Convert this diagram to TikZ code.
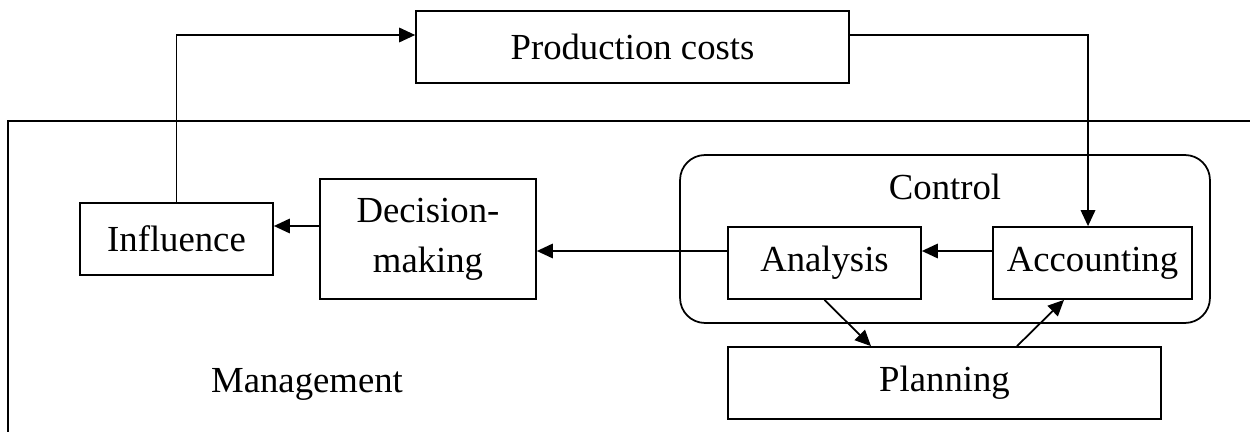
\documentclass[tikz,border=0pt]{standalone}
\usepackage{fontspec}
\setmainfont{Liberation Serif}
\usetikzlibrary{arrows.meta, positioning}

\begin{document}
\begin{tikzpicture}[x=0.02cm, y=-0.02cm, line width=1pt,
  box/.style={draw, inner sep=0pt, align=center, font=\fontsize{20.9}{28.5}\selectfont},
  arr/.style={-{Triangle[length=0.32cm, width=0.29cm]}},
  lbl/.style={anchor=base, font=\fontsize{20.9}{28.5}\selectfont}]
  \useasboundingbox (0,0) rectangle (1250,432);

  \draw (8,432) -- (8,121) -- (1250,121);
  \node[lbl] (mgmt) at (307,392) {Management};

  \node[box, minimum width=8.66cm, minimum height=1.44cm] (prod) at (632.5,47) {Production costs};
  \node[box, minimum width=3.86cm, minimum height=1.44cm] (infl) at (176.5,239) {Influence};
  \node[box, minimum width=4.32cm, minimum height=2.4cm] (dec) at (428,239) {Decision-\\making};

  \node[draw, rounded corners=0.5cm, minimum width=10.6cm, minimum height=3.36cm] (ctrl) at (945,239) {};
  \node[lbl] (ctrltxt) at (945,199) {Control};
  \node[box, minimum width=3.86cm, minimum height=1.44cm] (anl) at (824.5,263) {Analysis};
  \node[box, minimum width=3.98cm, minimum height=1.44cm] (acc) at (1092.5,263) {Accounting};
  \node[box, minimum width=8.66cm, minimum height=1.44cm] (plan) at (944.5,383) {Planning};

  \draw[arr] (infl.north) |- ([yshift=0.24cm]prod.west);
  \draw[arr] ([yshift=0.24cm]prod.east) -| ([xshift=-0.09cm]acc.north);
  \draw[arr] ([yshift=0.24cm]acc.west) -- ([yshift=0.24cm]anl.east);
  \draw[arr] ([yshift=0.24cm]anl.west) -- ([yshift=0.24cm]anl.west -| dec.east);
  \draw[arr] ([yshift=0.26cm]dec.west) -- ([yshift=0.26cm]dec.west -| infl.east);
  \draw[arr] (anl.south) -- ([xshift=-1.47cm]plan.north);
  \draw[arr] ([xshift=1.45cm]plan.north) -- ([xshift=-0.57cm]acc.south);
\end{tikzpicture}
\end{document}
